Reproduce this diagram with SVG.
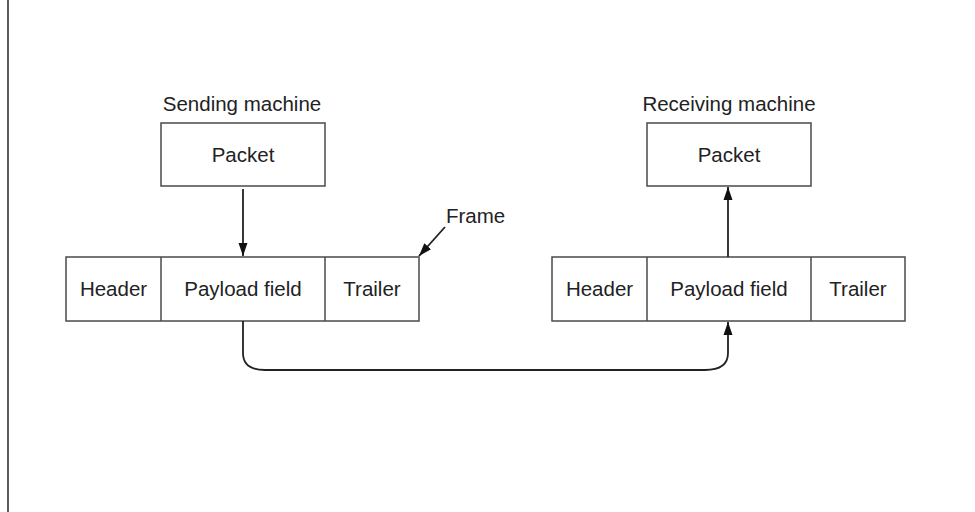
<svg xmlns="http://www.w3.org/2000/svg" width="975" height="512" viewBox="0 0 975 512">
  <style>
    .box { fill: #fff; stroke: #4a4a4a; stroke-width: 1.5; }
    .div { stroke: #4a4a4a; stroke-width: 1.5; }
    .lbl { font-family: "Liberation Sans", Arial, sans-serif; font-size: 20.5px; fill: #222; }
    .mid { text-anchor: middle; }
    .wire { fill: none; stroke: #222; stroke-width: 1.8; }
  </style>
  <defs>
    <marker id="arrow" markerUnits="userSpaceOnUse" markerWidth="13" markerHeight="14" viewBox="0 0 13 14" refX="13" refY="7" orient="auto">
      <path d="M0,2.5 L13,7 L0,11.5 Z" fill="#111"/>
    </marker>
  </defs>

  <rect width="975" height="512" fill="#fff"/>
  <!-- left page rule -->
  <line x1="8" y1="0" x2="8" y2="512" stroke="#333" stroke-width="1.6"/>

  <g id="sender-packet">
    <text class="lbl mid" x="242" y="111">Sending machine</text>
    <rect class="box" x="161" y="123" width="164" height="63"/>
    <text class="lbl mid" x="243" y="162">Packet</text>
  </g>

  <g id="receiver-packet">
    <text class="lbl mid" x="729" y="111">Receiving machine</text>
    <rect class="box" x="647" y="123" width="164" height="63"/>
    <text class="lbl mid" x="729" y="162">Packet</text>
  </g>

  <g id="sender-frame">
    <rect class="box" x="66" y="257" width="353" height="64"/>
    <line class="div" x1="161" y1="257" x2="161" y2="321"/>
    <line class="div" x1="325" y1="257" x2="325" y2="321"/>
    <text class="lbl mid" x="113.5" y="296">Header</text>
    <text class="lbl mid" x="243" y="296">Payload field</text>
    <text class="lbl mid" x="372" y="296">Trailer</text>
  </g>

  <g id="receiver-frame">
    <rect class="box" x="552" y="257" width="353" height="64"/>
    <line class="div" x1="647" y1="257" x2="647" y2="321"/>
    <line class="div" x1="811" y1="257" x2="811" y2="321"/>
    <text class="lbl mid" x="599.5" y="296">Header</text>
    <text class="lbl mid" x="729" y="296">Payload field</text>
    <text class="lbl mid" x="858" y="296">Trailer</text>
  </g>

  <g id="frame-label">
    <text class="lbl" x="446" y="223">Frame</text>
  </g>

  <g id="connectors">
    <line class="wire" x1="243" y1="189" x2="243" y2="256" marker-end="url(#arrow)"/>
    <line class="wire" x1="728" y1="257" x2="728" y2="187" marker-end="url(#arrow)"/>
    <line class="wire" x1="445" y1="227" x2="419" y2="256" marker-end="url(#arrow)"/>
    <path class="wire" d="M243,321 V353 Q243,370 265,370 H705 Q728,370 728,353 V322" marker-end="url(#arrow)"/>
  </g>
</svg>
